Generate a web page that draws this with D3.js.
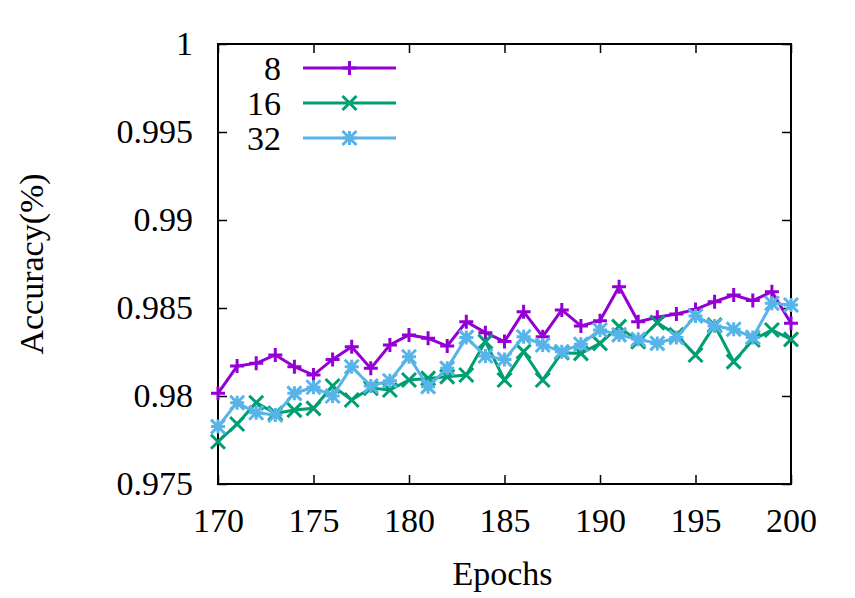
<!DOCTYPE html>
<html>
<head>
<meta charset="utf-8">
<script src="https://cdn.jsdelivr.net/npm/d3@7"></script>
<style>
body { margin: 0; background: #fff; }
text { font-family: "Liberation Serif", "Times New Roman", serif; fill: #000; }
</style>
</head>
<body>
<svg id="chart" width="855" height="598"></svg>
<script>
// epochs 170..200
var epochs = d3.range(170, 201);
var seriesNames = ["8", "16", "32"];
var colors = ["#9400d3", "#009e73", "#56b4e9"];

var acc8 = [0.98015, 0.98170, 0.98186, 0.98233, 0.98166, 0.98119, 0.98208, 0.98280, 0.98157, 0.98290,
    0.98347, 0.98328, 0.98284, 0.98422, 0.98360, 0.98309, 0.98479, 0.98337, 0.98489, 0.98398,
    0.98428, 0.98621, 0.98422, 0.98447, 0.98466, 0.98492, 0.98536, 0.98574, 0.98542, 0.98593, 0.98413];
var acc16 = [0.97740, 0.97841, 0.97962, 0.97901, 0.97920, 0.97930, 0.98057, 0.97977, 0.98045, 0.98034,
    0.98091, 0.98100, 0.98110, 0.98119, 0.98309, 0.98091, 0.98252, 0.98091, 0.98246, 0.98242,
    0.98299, 0.98394, 0.98309, 0.98417, 0.98347, 0.98233, 0.98403, 0.98195, 0.98318, 0.98375, 0.98322];
var acc32 = [0.97826, 0.97962, 0.97905, 0.97892, 0.98015, 0.98050, 0.98000, 0.98166, 0.98057, 0.98087,
    0.98223, 0.98053, 0.98157, 0.98333, 0.98227, 0.98208, 0.98337, 0.98290, 0.98252, 0.98294,
    0.98375, 0.98347, 0.98322, 0.98299, 0.98333, 0.98455, 0.98398, 0.98379, 0.98333, 0.98527, 0.98517];

var xTicks = [170, 175, 180, 185, 190, 195, 200];
var yTicks = [0.975, 0.98, 0.985, 0.99, 0.995, 1];

var svg = d3.select("#chart");
var mLeft = 218, mRight = 791, mTop = 44, mBottom = 484;
var fs = "34px";

var x = d3.scaleLinear().domain([170, 200]).range([mLeft, mRight]);
var y = d3.scaleLinear().domain([0.975, 1]).range([mBottom, mTop]);

// assi con tacche interne
var g = svg.append("g");
var tk = 9;
g.append("g").attr("transform", "translate(0," + mBottom + ")")
    .call(d3.axisBottom(x).tickValues(xTicks).tickSizeInner(-tk).tickSizeOuter(0).tickPadding(24).tickFormat(d3.format("d")));
g.append("g").attr("transform", "translate(0," + mTop + ")")
    .call(d3.axisTop(x).tickValues(xTicks).tickSizeInner(-tk).tickSizeOuter(0).tickFormat(""));
g.append("g").attr("transform", "translate(" + mLeft + ",0)")
    .call(d3.axisLeft(y).tickValues(yTicks).tickSizeInner(-tk).tickSizeOuter(0).tickPadding(25).tickFormat(function (d) { return String(+d.toFixed(3)); }));
g.append("g").attr("transform", "translate(" + mRight + ",0)")
    .call(d3.axisRight(y).tickValues(yTicks).tickSizeInner(-tk).tickSizeOuter(0).tickFormat(""));

g.selectAll(".domain").remove();
g.selectAll(".tick line").attr("stroke", "#000").attr("stroke-width", 1.5);
g.selectAll(".tick text").attr("font-size", fs).attr("font-family", "Liberation Serif");

svg.append("rect").attr("x", mLeft).attr("y", mTop)
    .attr("width", mRight - mLeft).attr("height", mBottom - mTop)
    .attr("fill", "none").attr("stroke", "#000").attr("stroke-width", 2);

// etichette assi
svg.append("text").attr("x", (mLeft + mRight) / 2 - 2).attr("y", 585)
    .attr("text-anchor", "middle").attr("font-size", fs).text("Epochs");
svg.append("text").attr("transform", "translate(43," + ((mTop + mBottom) / 2) + ") rotate(-90)")
    .attr("text-anchor", "middle").attr("font-size", fs).text("Accuracy(%)");

// marker
function marker(sel, i, cx, cy) {
    var c = colors[i], s = 7;
    var m = sel.append("g").attr("transform", "translate(" + cx + "," + cy + ")")
        .attr("stroke", c).attr("stroke-width", 3).attr("fill", "none");
    if (i == 0) {
        m.append("path").attr("d", "M" + (-s) + ",0H" + s + "M0," + (-s) + "V" + s);
    } else if (i == 1) {
        m.append("path").attr("d", "M" + (-s) + "," + (-s) + "L" + s + "," + s + "M" + (-s) + "," + s + "L" + s + "," + (-s));
    } else {
        m.append("path").attr("d", "M" + (-s) + ",0H" + s + "M0," + (-s) + "V" + s +
            "M" + (-s) + "," + (-s) + "L" + s + "," + s + "M" + (-s) + "," + s + "L" + s + "," + (-s));
    }
}

var dati = [acc8, acc16, acc32];
var line = d3.line().x(function (d, i) { return x(epochs[i]); }).y(function (d) { return y(d); });

dati.forEach(function (serie, i) {
    var gs = svg.append("g");
    gs.append("path").datum(serie).attr("d", line)
        .attr("fill", "none").attr("stroke", colors[i]).attr("stroke-width", 3)
        .attr("stroke-linejoin", "miter");
    serie.forEach(function (v, j) { marker(gs, i, x(epochs[j]), y(v)); });
});

// leggenda
seriesNames.forEach(function (n, i) {
    var ly = 68 + i * 35;
    svg.append("text").attr("x", 281).attr("y", ly + 12).attr("text-anchor", "end")
        .attr("font-size", fs).text(n);
    svg.append("line").attr("x1", 303).attr("x2", 396).attr("y1", ly).attr("y2", ly)
        .attr("stroke", colors[i]).attr("stroke-width", 3);
    marker(svg, i, 349.5, ly);
});
</script>
</body>
</html>
